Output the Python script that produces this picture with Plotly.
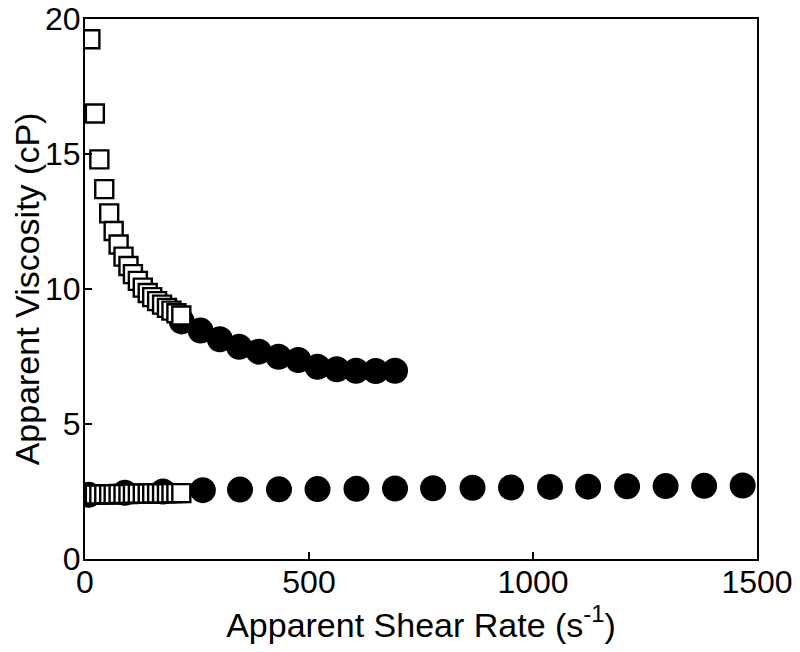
import plotly.graph_objects as go

# Upper branch (high viscosity) - squares (low shear rates)
sq_hi_x = [12, 22, 32, 43, 54, 64, 75, 86, 97, 107, 118, 129, 140, 150, 161, 172, 183, 193, 204, 215]
sq_hi_y = [19.25, 16.5, 14.8, 13.7, 12.8, 12.15, 11.65, 11.2, 10.85, 10.55, 10.3, 10.05, 9.85, 9.7, 9.55, 9.42, 9.3, 9.2, 9.1, 9.02]

# Upper branch - filled circles (higher shear rates)
ci_hi_x = [216, 258, 301, 344, 388, 432, 476, 519, 562, 605, 649, 692]
ci_hi_y = [8.8, 8.46, 8.14, 7.86, 7.68, 7.49, 7.37, 7.12, 7.03, 6.97, 6.96, 6.97]

# Lower branch (low viscosity) - squares
sq_lo_x = [12, 22, 32, 43, 54, 64, 75, 86, 97, 107, 118, 129, 140, 150, 161, 172, 183, 193, 204, 215]
sq_lo_y = [2.38, 2.39, 2.39, 2.4, 2.4, 2.4, 2.41, 2.41, 2.41, 2.42, 2.42, 2.42, 2.42, 2.43, 2.43, 2.43, 2.43, 2.44, 2.44, 2.44]

# Lower branch - filled circles
ci_lo_x = [8, 89, 174, 263, 346, 433, 519, 606, 692, 777, 865, 951, 1038, 1123, 1210, 1296, 1382, 1468]
ci_lo_y = [2.38, 2.45, 2.5, 2.55, 2.57, 2.58, 2.59, 2.6, 2.61, 2.62, 2.64, 2.65, 2.67, 2.68, 2.69, 2.7, 2.71, 2.72]

x_ticks = [0, 500, 1000, 1500]
y_ticks = [0, 5, 10, 15, 20]

FONT = "Liberation Sans, Arial, sans-serif"

fig = go.Figure()
circle_style = dict(symbol="circle", size=26, color="black", line=dict(width=0))
square_style = dict(symbol="square", size=18, color="white", line=dict(color="black", width=2.4))

fig.add_trace(go.Scatter(x=ci_hi_x, y=ci_hi_y, mode="markers", marker=circle_style, showlegend=False))
fig.add_trace(go.Scatter(x=ci_lo_x, y=ci_lo_y, mode="markers", marker=circle_style, showlegend=False))
fig.add_trace(go.Scatter(x=sq_hi_x, y=sq_hi_y, mode="markers", marker=square_style, showlegend=False))
fig.add_trace(go.Scatter(x=sq_lo_x, y=sq_lo_y, mode="markers", marker=square_style, showlegend=False))

axis_common = dict(
    showgrid=False, zeroline=False, showline=True, linecolor="black", linewidth=2,
    mirror=True, ticks="inside", ticklen=7, tickwidth=2, tickcolor="black",
    tickfont=dict(family=FONT, size=32, color="black"), automargin=False,
    ticklabeloverflow="allow",
)

fig.update_xaxes(range=[0, 1500], tickvals=x_ticks, ticktext=[str(v) for v in x_ticks],
                 ticklabelstandoff=-6,
                 title=dict(text="Apparent Shear Rate (s<sup>-1</sup>)",
                            font=dict(family=FONT, size=34, color="black"), standoff=0),
                 **axis_common)
fig.update_yaxes(range=[0, 20], tickvals=y_ticks, ticktext=[str(v) for v in y_ticks],
                 ticklabelstandoff=-4,
                 title=dict(text="Apparent Viscosity (cP)",
                            font=dict(family=FONT, size=34, color="black"), standoff=0),
                 **axis_common)

# The page body adds an 8 px margin, so the figure is sized and placed to fit the window.
fig.update_layout(
    width=784, height=636,
    margin=dict(l=77, r=35, t=11, b=85),
    plot_bgcolor="white", paper_bgcolor="white",
    font=dict(family=FONT, color="black"),
)

fig.write_html("out.html")
